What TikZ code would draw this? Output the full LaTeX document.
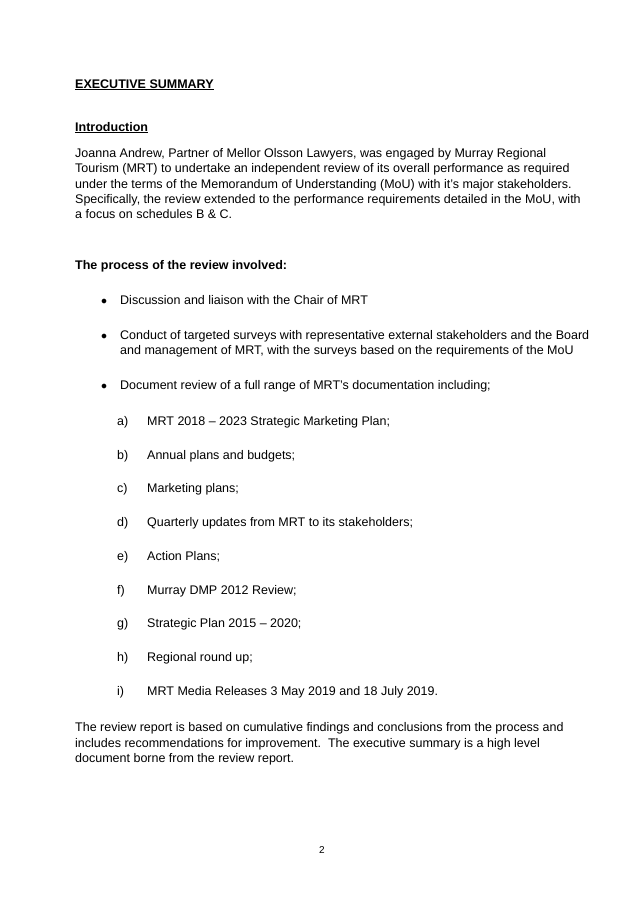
\documentclass[tikz,border=0pt]{standalone}
\usepackage{fontspec}
\setmainfont{Liberation Sans}
\begin{document}
\begin{tikzpicture}[x=1pt,y=-1pt,
  txt/.style={anchor=base west,inner sep=0pt,font=\fontsize{12.5}{14}\selectfont},
  hd/.style={txt,font=\fontsize{12.5}{14}\selectfont\bfseries}]
\fill[white] (0,0) rectangle (644,911);
\useasboundingbox (0,0) rectangle (644,911);
\node[hd] (t1) at (75,88) {\underline{EXECUTIVE SUMMARY}};
\node[hd] (t2) at (75,131) {\underline{Introduction}};
\node[txt] (p1) at (75,157) {Joanna Andrew, Partner of Mellor Olsson Lawyers, was engaged by Murray Regional};
\node[txt] (p2) at (75,172) {Tourism (MRT) to undertake an independent review of its overall performance as required};
\node[txt] (p3) at (75,188) {under the terms of the Memorandum of Understanding (MoU) with it's major stakeholders.};
\node[txt] (p4) at (75,203) {Specifically, the review extended to the performance requirements detailed in the MoU, with};
\node[txt] (p5) at (75,218) {a focus on schedules B \& C.};
\node[hd] (t3) at (75,269) {The process of the review involved:};
\node[txt] (b1d) at (101,304) {$\bullet$};
\node[txt] (b1) at (120,304) {Discussion and liaison with the Chair of MRT};
\node[txt] (b2d) at (101,339) {$\bullet$};
\node[txt] (b2) at (120,339) {Conduct of targeted surveys with representative external stakeholders and the Board};
\node[txt] (b2b) at (120,354) {and management of MRT, with the surveys based on the requirements of the MoU};
\node[txt] (b3d) at (101,389) {$\bullet$};
\node[txt] (b3) at (120,389) {Document review of a full range of MRT's documentation including;};
\foreach \l/\t/\y [count=\i] in {a)/{MRT 2018 -- 2023 Strategic Marketing Plan;}/425,
  b)/{Annual plans and budgets;}/459,
  c)/{Marketing plans;}/492,
  d)/{Quarterly updates from MRT to its stakeholders;}/526,
  e)/{Action Plans;}/560,
  f)/{Murray DMP 2012 Review;}/594,
  g)/{Strategic Plan 2015 -- 2020;}/627,
  h)/{Regional round up;}/661,
  i)/{MRT Media Releases 3 May 2019 and 18 July 2019.}/695}{
  \node[txt] (l\i) at (117,\y) {\l};
  \node[txt] (i\i) at (147,\y) {\t};
}
\node[txt] (q1) at (75,731) {The review report is based on cumulative findings and conclusions from the process and};
\node[txt] (q2) at (75,747) {includes recommendations for improvement.\ \ The executive summary is a high level};
\node[txt] (q3) at (75,762) {document borne from the review report.};
\node[anchor=base,inner sep=0pt,font=\fontsize{10}{12}\selectfont] (pg) at (322,853) {2};
\end{tikzpicture}
\end{document}
